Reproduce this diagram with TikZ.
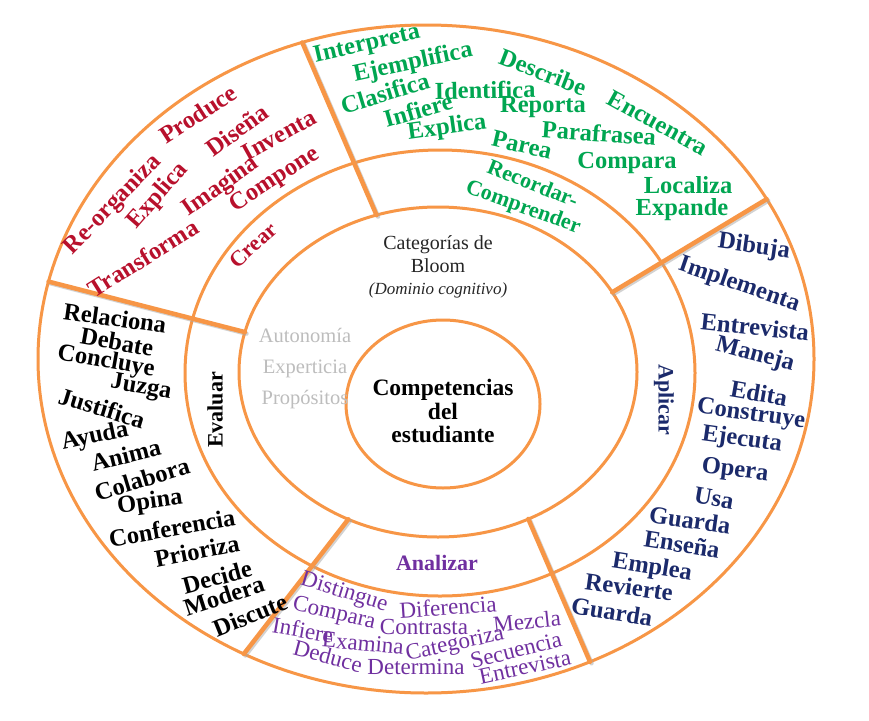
\documentclass[tikz,border=0pt]{standalone}
\usepackage{fontspec}
\setmainfont{Liberation Serif}
\usetikzlibrary{calc}

\definecolor{bloomOrange}{HTML}{F79646}
\definecolor{bloomRed}{HTML}{B8102C}
\definecolor{bloomGreen}{HTML}{00A651}
\definecolor{bloomNavy}{HTML}{1B2A6B}
\definecolor{bloomPurple}{HTML}{7030A0}
\definecolor{bloomGray}{HTML}{BDBDBD}

\begin{document}
\begin{tikzpicture}[x=1pt,y=-1pt,
  ring/.style={draw=bloomOrange,line width=3pt},
  cut/.style={draw=bloomOrange,line width=4.5pt,line cap=round},
  cutshade/.style={draw=black!35,line width=4.5pt,line cap=round,opacity=0.5},
  verb/.style={inner sep=0pt,font=\fontsize{24.5}{24.5}\selectfont\bfseries},
  thinverb/.style={inner sep=0pt,font=\fontsize{23}{23}\selectfont},
  level/.style={inner sep=0pt,font=\fontsize{22}{22}\selectfont\bfseries}]
  \useasboundingbox (0,0) rectangle (869,720);
  \fill[white] (0,0) rectangle (869,720);

  % rings
  \coordinate (core) at (443,404);
  \coordinate (ctr2) at (438,372);
  \coordinate (ctr3) at (440,373);
  \coordinate (ctr4) at (426,359);
  \draw[ring] (ctr4) ellipse [x radius=388,y radius=334];
  \draw[ring] (ctr3) ellipse [x radius=255,y radius=223];
  \draw[ring] (ctr2) ellipse [x radius=199,y radius=165];
  \draw[ring] (core) ellipse [x radius=97,y radius=84];

  % separators between the categories
  \foreach \n/\a/\b in {1/-108/-108.6,2/-28.9/-28.6,3/63/65,4/116.8/118,5/194/193.4} {
    \coordinate (in\n) at ($(ctr2)+(\a:199 and 165)$);
    \coordinate (out\n) at ($(ctr4)+(\b:388 and 334)$);
    \draw[cutshade] ($(in\n)+(1.5,1.5)$) -- ($(out\n)+(1.5,1.5)$);
    \draw[cut] (in\n) -- (out\n);
  }

  % Crear
  \node[level,text=bloomRed,rotate=42] (crear) at (253,245) {Crear};
  \foreach \x/\y/\r/\w [count=\i] in {113/205/46/Re-organiza,198/114/33/Produce,158/196/49/Explica,
      237/130/36/Diseña,279/135/29/Inventa,221/187/35/Imagina,275/180/33/Compone,143/258/32/Transforma} {
    \node[verb,text=bloomRed,rotate=\r] (cr\i) at (\x,\y) {\w};
  }

  % Recordar-Comprender
  \node[level,text=bloomGreen,rotate=-22] (recordar) at (533,183) {Recordar-};
  \node[level,text=bloomGreen,rotate=-20] (comprender) at (523,208) {Comprender};
  \foreach \x/\y/\r/\w [count=\i] in {367/45/13/Interpreta,413/63/12/Ejemplifica,543/72/-21/Describe,
      658/123/-29/Encuentra,385/93/17/Clasifica,485/90/1/Identifica,418/110/16/Infiere,543/107/0/Reporta,
      447/128/8/Explica,599/133/-4/Parafrasea,522/145/-13/Parea,627/163/0/Compara,688/185/0/Localiza,
      682/210/0/Expande} {
    \node[verb,text=bloomGreen,rotate=\r] (rc\i) at (\x,\y) {\w};
  }

  % Aplicar
  \node[level,text=bloomNavy,rotate=-90] (aplicar) at (664,400) {Aplicar};
  \foreach \x/\y/\r/\w [count=\i] in {754/247/-8/Dibuja,739/285/-19/Implementa,755/327/-6/Entrevista,
      755/355/-15/Maneja,759/393/-10/Edita,751/415/-8/Construye,742/440/-8/Ejecuta,735/471/-7/Opera,
      714/498/-10/Usa,690/520/-8/Guarda,682/544/-9/Enseña,652/568/-9/Emplea,629/587/-8/Revierte,
      612/612/-9/Guarda} {
    \node[verb,text=bloomNavy,rotate=\r] (ap\i) at (\x,\y) {\w};
  }

  % Analizar
  \node[level,text=bloomPurple] (analizar) at (437,563) {Analizar};
  \foreach \x/\y/\r/\w [count=\i] in {344/593/-17/Distingue,448/607/4/Diferencia,334/614/-13/Compara,
      527/621/6/Mezcla,424/627/0/Contrasta,303/630/-10/Infiere,363/643/-5/Examina,455/645/12/Categoriza,
      516/650/14/Secuencia,328/656/-15/Deduce,416/667/0/Determina,525/667/12/Entrevista} {
    \node[thinverb,text=bloomPurple,rotate=\r] (an\i) at (\x,\y) {\w};
  }

  % Evaluar
  \node[level,rotate=90] (evaluar) at (215,410) {Evaluar};
  \foreach \x/\y/\r/\w [count=\i] in {115/318/-8/Relaciona,117/342/-10/Debate,106/362/-10/Concluye,
      141/388/-10/Juzga,102/408/-17/Justifica,95/437/12/Ayuda,126/455/14/Anima,142/479/17/Colabora,
      150/503/8/Opina,172/528/10/Conferencia,197/551/11/Prioriza,217/577/15/Decide,224/596/18/Modera,
      250/615/22/Discute} {
    \node[verb,rotate=\r] (ev\i) at (\x,\y) {\w};
  }

  % centre
  \node[align=center,inner sep=0pt,text=black!85,font=\fontsize{20}{22.5}\selectfont] (bloom) at (438,267)
    {Categorías de\\Bloom\\{\fontsize{17}{22.5}\selectfont\itshape (Dominio cognitivo)}};
  \node[align=center,inner sep=0pt,text=bloomGray,font=\fontsize{20.5}{31}\selectfont] (rasgos) at (305,369)
    {Autonomía\\Experticia\\Propósitos};
  \node[align=center,inner sep=0pt,font=\fontsize{23.5}{23.5}\selectfont\bfseries] (competencias) at (443,411)
    {Competencias\\del\\estudiante};
\end{tikzpicture}
\end{document}
